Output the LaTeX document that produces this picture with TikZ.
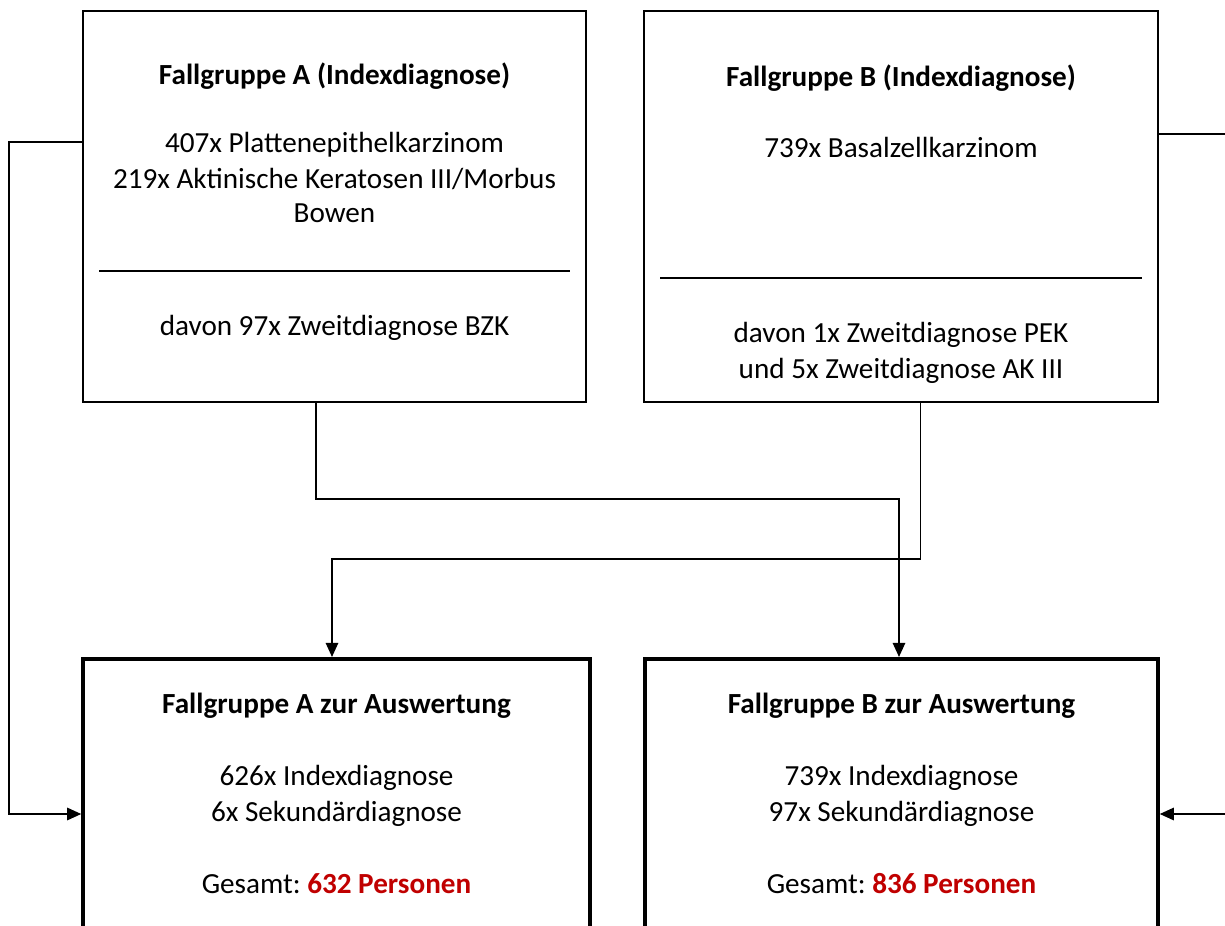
\documentclass[tikz,border=0pt]{standalone}
\usepackage{fontspec}
\setmainfont{Carlito}
\usetikzlibrary{arrows.meta,positioning,calc}
\definecolor{FgRed}{HTML}{C00000}
\frenchspacing

\begin{document}
\begin{tikzpicture}[x=0.02cm,y=-0.02cm,
    inbox/.style={draw,line width=1pt,minimum height=7.82cm,inner sep=0pt},
    outbox/.style={draw,line width=2pt,minimum height=8cm,inner sep=0pt,anchor=north},
    txt/.style={font=\fontsize{16.6}{19.8}\selectfont,anchor=base,inner sep=0pt},
    link/.style={line width=1.05pt},
    arr/.style={link,-{Triangle[length=8pt,width=7pt]}}]
        \useasboundingbox (0,0) rectangle (1225,926);
        \clip (0,0) rectangle (1225,926);

        % input groups
        \node[inbox,minimum width=10.06cm] (inA) at (334.5,206.5) {};
        \node[txt] (titleA) at (334.5,85) {\textbf{Fallgruppe A (Indexdiagnose)}};
        \node[txt] (a1) at (334.5,153) {407x Plattenepithelkarzinom};
        \node[txt] (a2) at (334.5,189) {219x Aktinische Keratosen III/Morbus};
        \node[txt] (a3) at (334.5,223) {Bowen};
        \draw[link] (99,271) -- (570,271);
        \node[txt] (a4) at (334.5,336) {davon 97x Zweitdiagnose BZK};

        \node[inbox,minimum width=10.28cm] (inB) at (901,206.5) {};
        \node[txt] (titleB) at (901,87) {\textbf{Fallgruppe B (Indexdiagnose)}};
        \node[txt] (b1) at (901,158) {739x Basalzellkarzinom};
        \draw[link] (660,278) -- (1142,278);
        \node[txt] (b2) at (901,342) {davon 1x Zweitdiagnose PEK};
        \node[txt] (b3) at (901,378) {und 5x Zweitdiagnose AK III};

        % evaluation groups
        \node[outbox,minimum width=10.14cm] (outA) at (336.5,657) {};
        \node[txt] (titleOA) at (336.5,713) {\textbf{Fallgruppe A zur Auswertung}};
        \node[txt] (oa1) at (336.5,785) {626x Indexdiagnose};
        \node[txt] (oa2) at (336.5,821) {6x Sekundärdiagnose};
        \node[txt] (oa3) at (336.5,893) {Gesamt: \textcolor{FgRed}{\textbf{632 Personen}}};

        \node[outbox,minimum width=10.26cm] (outB) at (901.5,657) {};
        \node[txt] (titleOB) at (901.5,713) {\textbf{Fallgruppe B zur Auswertung}};
        \node[txt] (ob1) at (901.5,785) {739x Indexdiagnose};
        \node[txt] (ob2) at (901.5,821) {97x Sekundärdiagnose};
        \node[txt] (ob3) at (901.5,893) {Gesamt: \textcolor{FgRed}{\textbf{836 Personen}}};

        % connectors
        \coordinate (offOut) at (1260,134);
        \coordinate (offIn) at (1260,814);
        \draw[arr] ($(inA.south)+(-18.5,0)$) -- ++(0,96) -| ($(outB.north)+(-2.5,0)$);
        \draw[arr] ($(inB.south)+(19.5,0)$) -- ++(0,156) -| ($(outA.north)+(-4.5,0)$);
        \draw[arr] ($(inA.west)+(0,-64.5)$) -- ++(-73,0) |- ($(outA.north west)+(0,157)$);
        \draw[link] ($(inB.east)+(0,-72.5)$) -- (offOut);
        \draw[arr] (offIn) -- ($(outB.north east)+(0,157)$);
      \end{tikzpicture}
\end{document}
